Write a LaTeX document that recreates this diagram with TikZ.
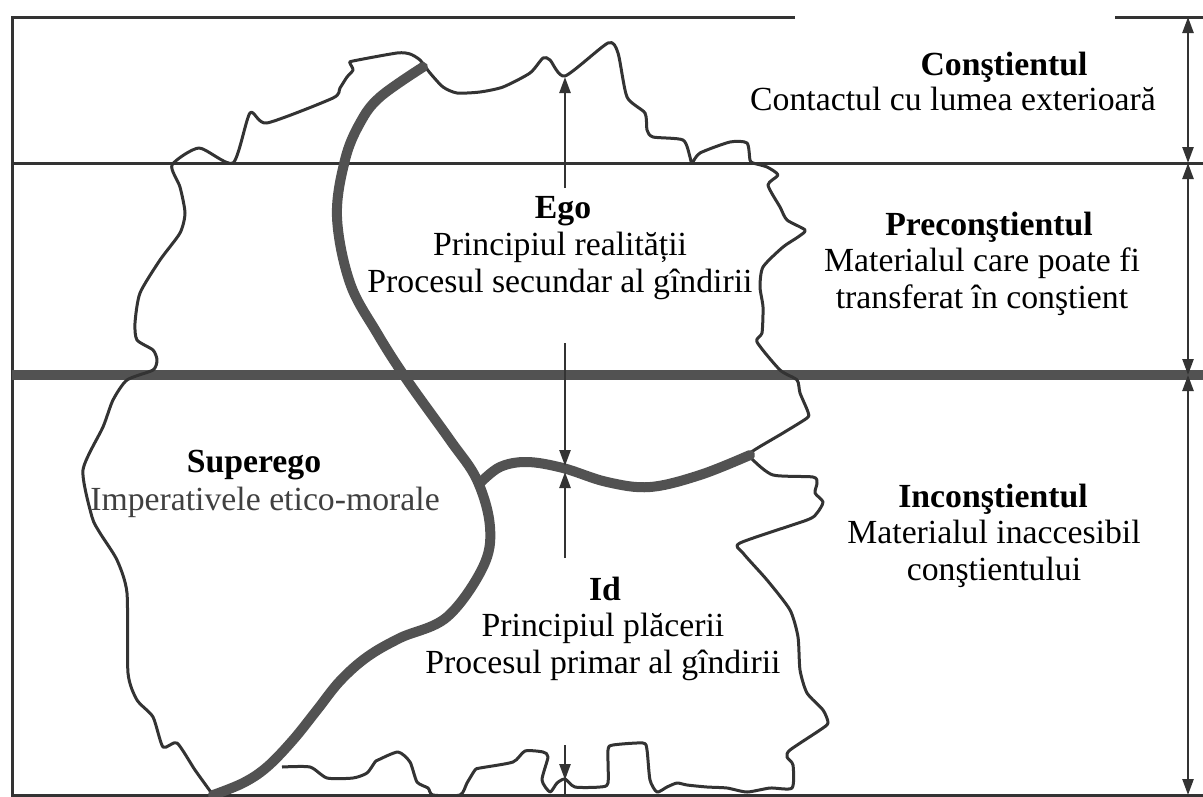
\documentclass[tikz,border=0pt]{standalone}
\usepackage{fontspec}
\setmainfont{Liberation Serif}
\usetikzlibrary{arrows.meta}

\begin{document}
\begin{tikzpicture}[x=0.1mm, y=-0.1mm,
    >={Triangle[length=1.6mm,width=1.1mm]},
    frameline/.style={line width=0.3mm, black!80},
    heavyline/.style={line width=1mm, black!68, line cap=round},
    blobline/.style={line width=0.3mm, black!80, line join=round},
    dimarrow/.style={line width=0.25mm, black!80},
    lbl/.style={align=center, inner sep=0pt, anchor=base, font=\fontsize{9.6}{10.5}\selectfont},
    ttl/.style={lbl, font=\fontsize{9.6}{10.5}\selectfont\bfseries}]
  \useasboundingbox (0,0) rectangle (1203,796);
  % levels
  \draw[frameline] (795,17) -- (12,17) -- (12,795) -- (1203,795);
  \draw[frameline] (1115,17) -- (1203,17);
  \draw[frameline] (12,163) -- (1203,163);
  \draw[heavyline, line cap=butt] (12,375) -- (1203,375);
  % arrows on the right
  \foreach \n/\y in {0/17,1/163,2/375,3/795}
    \coordinate (r\n) at (1188,\y);
  \foreach \a/\b in {0/1,1/2,2/3}
    \draw[dimarrow, <->] (r\a) -- (r\b);
  % outline of the psyche
  \draw[blobline] plot[smooth, tension=0.4] coordinates {
    (213,795) (195,770) (177,743) (163,747) (153,717) (137,700) (128,673)
    (127,593) (117,560) (100,533) (92,517) (83,470) (103,427) (113,400)
    (127,380) (153,370) (157,360) (153,350) (137,340) (135,323) (140,293)
    (160,260) (180,233) (185,213) (180,187) (172,165) (199,148) (233,163)
    (250,113) (267,123) (333,98) (340,88) (347,77) (353,70) (350,63) (353,61)
    (397,53) (410,54) (420,60) (430,73) (443,87) (457,93) (480,92) (503,87)
    (530,73) (543,58) (550,60) (565,76) (608,43) (618,53) (627,97) (645,113)
    (647,130) (653,137) (683,140) (690,157) (692,163) (700,153) (730,142)
    (747,143) (750,160) (753,163) (767,167) (778,175) (768,185) (780,207)
    (787,220) (805,230) (798,237) (783,247) (763,267) (760,287) (763,307)
    (762,333) (757,342) (780,370) (797,380) (800,393) (808,412) (807,418)
    (783,433) (750,453) (753,460) (773,475) (813,477) (817,483) (815,493)
    (823,502) (817,513) (807,520) (740,543) (743,553) (767,580) (790,610)
    (798,637) (800,670) (807,693) (823,710) (828,723) (820,730) (790,750)
    (787,757) (793,765) (792,788) (770,788) (747,792) (727,788) (707,787)
    (687,785) (677,783) (667,787) (657,792) (650,780) (647,750) (643,743)
    (613,745) (608,750) (608,783) (600,787) (575,787) (565,779) (557,783)
    (550,792) (542,780) (548,757) (543,752) (525,751) (513,762) (480,768)
    (475,770) (467,783) (460,795) (433,795) (428,788) (417,782) (410,762)
    (398,752) (378,760) (375,762) (367,773) (353,778) (327,778) (310,767)
    (282,767)};
  % superego and id borders
  \draw[heavyline] plot[smooth, tension=0.6] coordinates {
    (423,67) (380,97) (360,123) (345,160) (337,217) (350,283) (377,333)
    (407,380) (450,440) (477,480) (490,527) (483,567) (447,617) (400,638)
    (367,657) (340,681) (317,710) (293,740) (267,767) (243,783) (213,795)};
  \draw[heavyline] plot[smooth, tension=0.6] coordinates {
    (480,483) (500,467) (527,462) (563,468) (607,482) (650,487) (700,475)
    (750,455)};
  % middle arrows
  \coordinate (egoA) at (565,188);
  \coordinate (egoB) at (565,77);
  \coordinate (egoC) at (565,343);
  \coordinate (egoD) at (565,466);
  \coordinate (idA) at (565,558);
  \coordinate (idB) at (565,472);
  \coordinate (idC) at (565,745);
  \coordinate (idD) at (565,780);
  \coordinate (idE) at (565,795);
  \draw[dimarrow, ->] (egoA) -- (egoB);
  \draw[dimarrow, ->] (egoC) -- (egoD);
  \draw[dimarrow, ->] (idA) -- (idB);
  \draw[dimarrow, ->] (idC) -- (idD);
  \draw[dimarrow] (idD) -- (idE);
  % texts (multi-line nodes sit on their last baseline)
  \node[ttl] (cons) at (1004,75) {Conştientul};
  \node[lbl] (constxt) at (953,110) {Contactul cu lumea exterioară};
  \node[ttl] (precons) at (989,235) {Preconştientul};
  \node[lbl] (precontxt) at (982,308) {Materialul care poate fi\\transferat în conştient};
  \node[ttl] (incons) at (993,507) {Inconştientul};
  \node[lbl] (incontxt) at (994,580) {Materialul inaccesibil\\conştientului};
  \node[ttl] (ego) at (563,218) {Ego};
  \node[lbl] (egotxt) at (560,292) {Principiul realității\\Procesul secundar al gîndirii};
  \node[ttl] (superego) at (254,472) {Superego};
  \node[lbl, black!75] (superegotxt) at (265,510) {Imperativele etico-morale};
  \node[ttl] (id) at (605,600) {Id};
  \node[lbl] (idtxt) at (603,673) {Principiul plăcerii\\Procesul primar al gîndirii};
\end{tikzpicture}
\end{document}
